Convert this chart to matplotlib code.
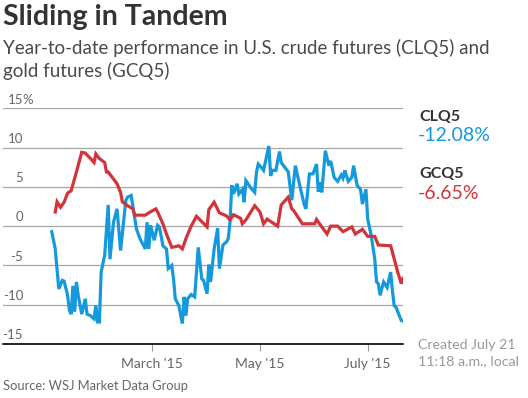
import numpy as np
import pandas as pd
import matplotlib
matplotlib.use('Agg')
import matplotlib.pyplot as plt
import matplotlib.transforms as mtrans

plt.rcParams['font.family'] = ['Lato', 'DejaVu Sans']

# days since Jan 1 2015, YTD % change
cl_day = [2, 4, 6, 8, 9, 11, 12, 13, 14, 15, 16, 17, 19, 21, 22, 24, 26, 27, 28, 29,
          30, 32, 34, 35, 37, 39, 41, 44, 45, 47, 50, 52, 55, 56, 57, 58, 59, 60, 62, 63,
          65, 67, 68, 70, 71, 72, 74, 76, 77, 78, 79, 81, 83, 85, 87, 88, 90, 91, 92, 94,
          96, 97, 99, 101, 102, 103, 104, 105, 107, 108, 110, 111, 112, 115, 117, 118, 119, 121, 122, 125,
          126, 127, 129, 131, 132, 134, 136, 138, 140, 143, 145, 146, 148, 150, 152, 153, 154, 155, 157, 159,
          160, 162, 164, 166, 167, 168, 170, 172, 173, 175, 177, 178, 180, 181, 183, 185, 186, 187, 188, 190,
          192, 194, 195, 196, 197, 200, 201]
cl_val = [-0.7, -2.9, -8.0, -6.9, -7.0, -8.8, -10.7, -11.2, -7.6, -10.9, -7.1, -8.8, -11.2, -9.25, -11.2, -11.4, -11.8, -10.1, -12.2, -12.2,
          -5.85, -3.7, 2.7, -4.2, 0.5, 2.2, -3.1, 3.3, 3.7, 3.9, -0.35, -1.6, -2.9, 0.5, -2.9, 0.1, -0.8, -1.8, 0.1, -0.1,
          -2.5, -2.9, -5.4, -5.0, -6.7, -9.25, -10.1, -12.4, -9.0, -11.4, -9.25, -8.7, -9.0, -2.7, -6.7, -6.9, -8.6, -4.9, -7.1, -2.9,
          -0.25, -5.4, -2.4, -2.0, -1.6, 0.5, 5.2, 4.1, 5.4, 4.1, 4.7, 3.05, 5.8, 4.8, 4.3, 6.9, 7.9, 7.4, 7.1, 10.2,
          6.4, 7.1, 7.1, 9.5, 8.1, 7.5, 6.9, 3.3, 7.7, 4.7, 2.8, 2.2, 6.65, 6.65, 7.9, 4.4, 5.6, 4.3, 9.6, 7.7,
          8.3, 6.2, 5.7, 6.5, 6.1, 7.1, 5.7, 6.2, 7.7, 5.2, 4.65, 2.8, 4.7, 0.9, -1.2, -4.2, -7.1, -7.3, -8.8, -7.1,
          -7.8, -5.85, -8.2, -10.1, -10.3, -12.0, -12.08]

gc_day = [4, 5, 7, 9, 11, 13, 16, 19, 21, 24, 26, 27, 29, 32, 33, 34, 37, 39, 41, 42,
          45, 48, 49, 55, 57, 61, 62, 65, 67, 70, 74, 76, 78, 81, 84, 90, 91, 94, 97, 101,
          103, 105, 109, 110, 112, 117, 120, 122, 124, 130, 132, 136, 138, 139, 144, 151, 152, 155, 158, 160,
          164, 167, 172, 174, 178, 181, 185, 187, 194, 195, 198, 200, 201]
gc_val = [1.8, 3.1, 2.4, 3.05, 4.2, 4.5, 6.9, 9.4, 9.3, 8.6, 8.1, 9.2, 8.6, 8.1, 6.9, 6.9, 6.0, 5.4, 4.3, 3.1,
          2.6, 2.2, 1.4, 1.4, 1.7, 2.2, 1.8, 0.3, -1.0, -2.7, -2.5, -2.9, -1.6, 0.0, 1.25, -0.1, 2.1, 3.05, 1.7, 1.3,
          0.8, 1.45, 1.0, 0.3, 0.8, 2.6, 1.8, 0.3, 0.9, 0.0, 2.7, 3.7, 2.2, 2.0, 0.3, 0.3, 0.85, -0.1, -1.0, 0.0,
          0.0, -0.7, -0.1, -1.0, -0.4, -1.3, -1.3, -2.4, -2.5, -3.3, -5.85, -7.3, -6.65]

y_ticks = [-15, -10, -5, 0, 5, 10, 15]
x_ticks = ['2015-03-01', '2015-05-01', '2015-07-01']
x_labels = ["March '15", "May '15", "July '15"]

BLUE = '#1499dc'
RED = '#d1343b'
DARK = '#333333'
GRAY = '#666666'

start = pd.Timestamp('2015-01-01')
cl_x = start + pd.to_timedelta(cl_day, unit='D')
gc_x = start + pd.to_timedelta(gc_day, unit='D')

W, H = 528, 398
fig = plt.figure(figsize=(W / 100, H / 100), dpi=100)
ax = fig.add_axes([3 / W, 1 - 344 / H, 400 / W, (344 - 108.3) / H])

def px(x, y):
    return x / W, 1 - y / H

for t in y_ticks[1:]:
    ax.axhline(t, color='#a6a6a6', lw=0.9, zorder=1)

ax.plot(gc_x, gc_val, color=RED, lw=2.3, zorder=3, solid_joinstyle='miter')
ax.plot(cl_x, cl_val, color=BLUE, lw=2.3, zorder=2, solid_joinstyle='miter')

ax.set_ylim(-15, 15)
ax.set_xlim(start - pd.Timedelta(days=25.6), start + pd.Timedelta(days=201))
for s in ['top', 'left', 'right']:
    ax.spines[s].set_visible(False)
ax.spines['bottom'].set_color('black')
ax.spines['bottom'].set_linewidth(1.2)
ax.set_yticks([])
ax.set_xticks(pd.to_datetime(x_ticks))
ax.set_xticklabels(x_labels, fontsize=10, color=GRAY)
ax.tick_params(axis='x', length=5, width=0.8, color='#999999', pad=5)

# y labels sitting above the gridlines
tr = mtrans.blended_transform_factory(fig.transFigure, ax.transData)
tr = mtrans.offset_copy(tr, fig=fig, y=2, units='points')
for t in y_ticks:
    fig.text(23 / W, t, str(t), transform=tr, ha='right', va='bottom',
             fontsize=9.5, color=GRAY)
fig.text(22 / W, 15, '%', transform=tr, ha='left', va='bottom', fontsize=9.5, color=GRAY)

fig.text(*px(3, 17), 'Sliding in Tandem', fontsize=20.5, fontweight='bold',
         color=DARK, va='center', ha='left')
fig.text(*px(3, 48), 'Year-to-date performance in U.S. crude futures (CLQ5) and',
         fontsize=13.5, color='#4a4a4a', va='center', ha='left')
fig.text(*px(3, 71), 'gold futures (GCQ5)',
         fontsize=13.5, color='#4a4a4a', va='center', ha='left')

fig.text(*px(419, 117), 'CLQ5', fontsize=11.5, fontweight='bold', color=DARK, va='center')
fig.text(*px(418, 136), '-12.08%', fontsize=14, color=BLUE, va='center')
fig.text(*px(419, 174), 'GCQ5', fontsize=11.5, fontweight='bold', color=DARK, va='center')
fig.text(*px(418, 193), '-6.65%', fontsize=14, color=RED, va='center')

fig.text(*px(418, 345), 'Created July 21', fontsize=10.2, color='#999999', va='center')
fig.text(*px(418, 361), '11:18 a.m., local', fontsize=10.2, color='#999999', va='center')
fig.text(*px(3, 386), 'Source: WSJ Market Data Group', fontsize=9.3, color=GRAY, va='center')

fig.savefig('out.png', dpi=100)
